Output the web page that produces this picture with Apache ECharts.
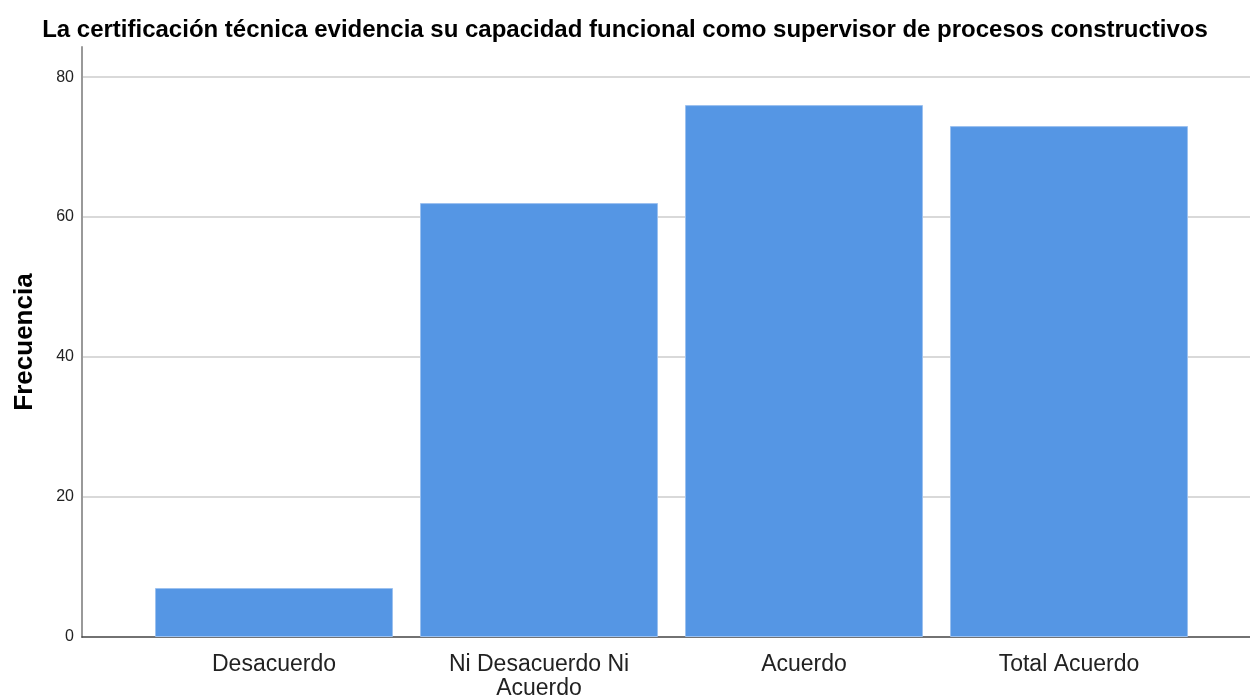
<!DOCTYPE html>
<html>
<head>
<meta charset="utf-8">
<script src="https://cdn.jsdelivr.net/npm/echarts@6/dist/echarts.min.js"></script>
<style>
  html,body{margin:0;padding:0;background:#fff;}
  #chart{width:1250px;height:698px;}
</style>
</head>
<body>
<div id="chart"></div>
<script>
var titulo = 'La certificación técnica evidencia su capacidad funcional como supervisor de procesos constructivos';
var categorias = ['Desacuerdo', 'Ni Desacuerdo Ni\nAcuerdo', 'Acuerdo', 'Total Acuerdo'];
var frecuencias = [7, 62, 76, 73];
var ticksY = [0, 20, 40, 60, 80];

var fuente = '"Liberation Sans", Arial, sans-serif';
var yMax = 84.3;

var chart = echarts.init(document.getElementById('chart'));
var option = {
  backgroundColor: '#ffffff',
  animation: false,
  title: {
    text: titulo,
    left: 'center',
    top: 13,
    textStyle: {color: '#000', fontSize: 24, fontWeight: 'bold', fontFamily: fuente}
  },
  grid: [
    {left: 82, right: 0, top: 47, bottom: 61, outerBoundsMode: 'none'},
    {left: 141.5, width: 1060, top: 47, bottom: 61, outerBoundsMode: 'none'}
  ],
  xAxis: [
    {
      gridIndex: 0, type: 'value', min: 0, max: 1,
      axisLine: {show: true, lineStyle: {color: '#444', width: 1.5}},
      axisTick: {show: false}, axisLabel: {show: false}, splitLine: {show: false}
    },
    {
      gridIndex: 1, type: 'category', data: categorias,
      axisLine: {show: false}, axisTick: {show: false},
      axisLabel: {
        color: '#222', fontSize: 23, fontFamily: fuente, margin: 16,
        lineHeight: 24, interval: 0
      }
    }
  ],
  yAxis: [
    {
      gridIndex: 0, type: 'value', min: 0, max: yMax, interval: 20,
      name: 'Frecuencia', nameLocation: 'middle', nameGap: 44,
      nameTextStyle: {color: '#000', fontSize: 26, fontWeight: 'bold', fontFamily: fuente},
      axisLine: {show: true, lineStyle: {color: '#999', width: 2}},
      axisTick: {show: false},
      axisLabel: {
        color: '#222', fontSize: 16, fontFamily: fuente, margin: 8,
        showMaxLabel: false,
        formatter: function (v) { return ticksY.indexOf(v) >= 0 ? String(v) : ''; }
      },
      splitLine: {show: true, showMinLine: false, showMaxLine: false, lineStyle: {color: '#cccccc', width: 1.5}}
    },
    {
      gridIndex: 1, type: 'value', min: 0, max: yMax, show: false,
      splitLine: {show: false}
    }
  ],
  series: [
    {
      type: 'bar',
      xAxisIndex: 1, yAxisIndex: 1,
      data: frecuencias,
      barCategoryGap: '10.2%',
      itemStyle: {color: '#5596e4', borderColor: '#9cc1ef', borderWidth: 1}
    }
  ]
};
chart.setOption(option);
</script>
</body>
</html>
